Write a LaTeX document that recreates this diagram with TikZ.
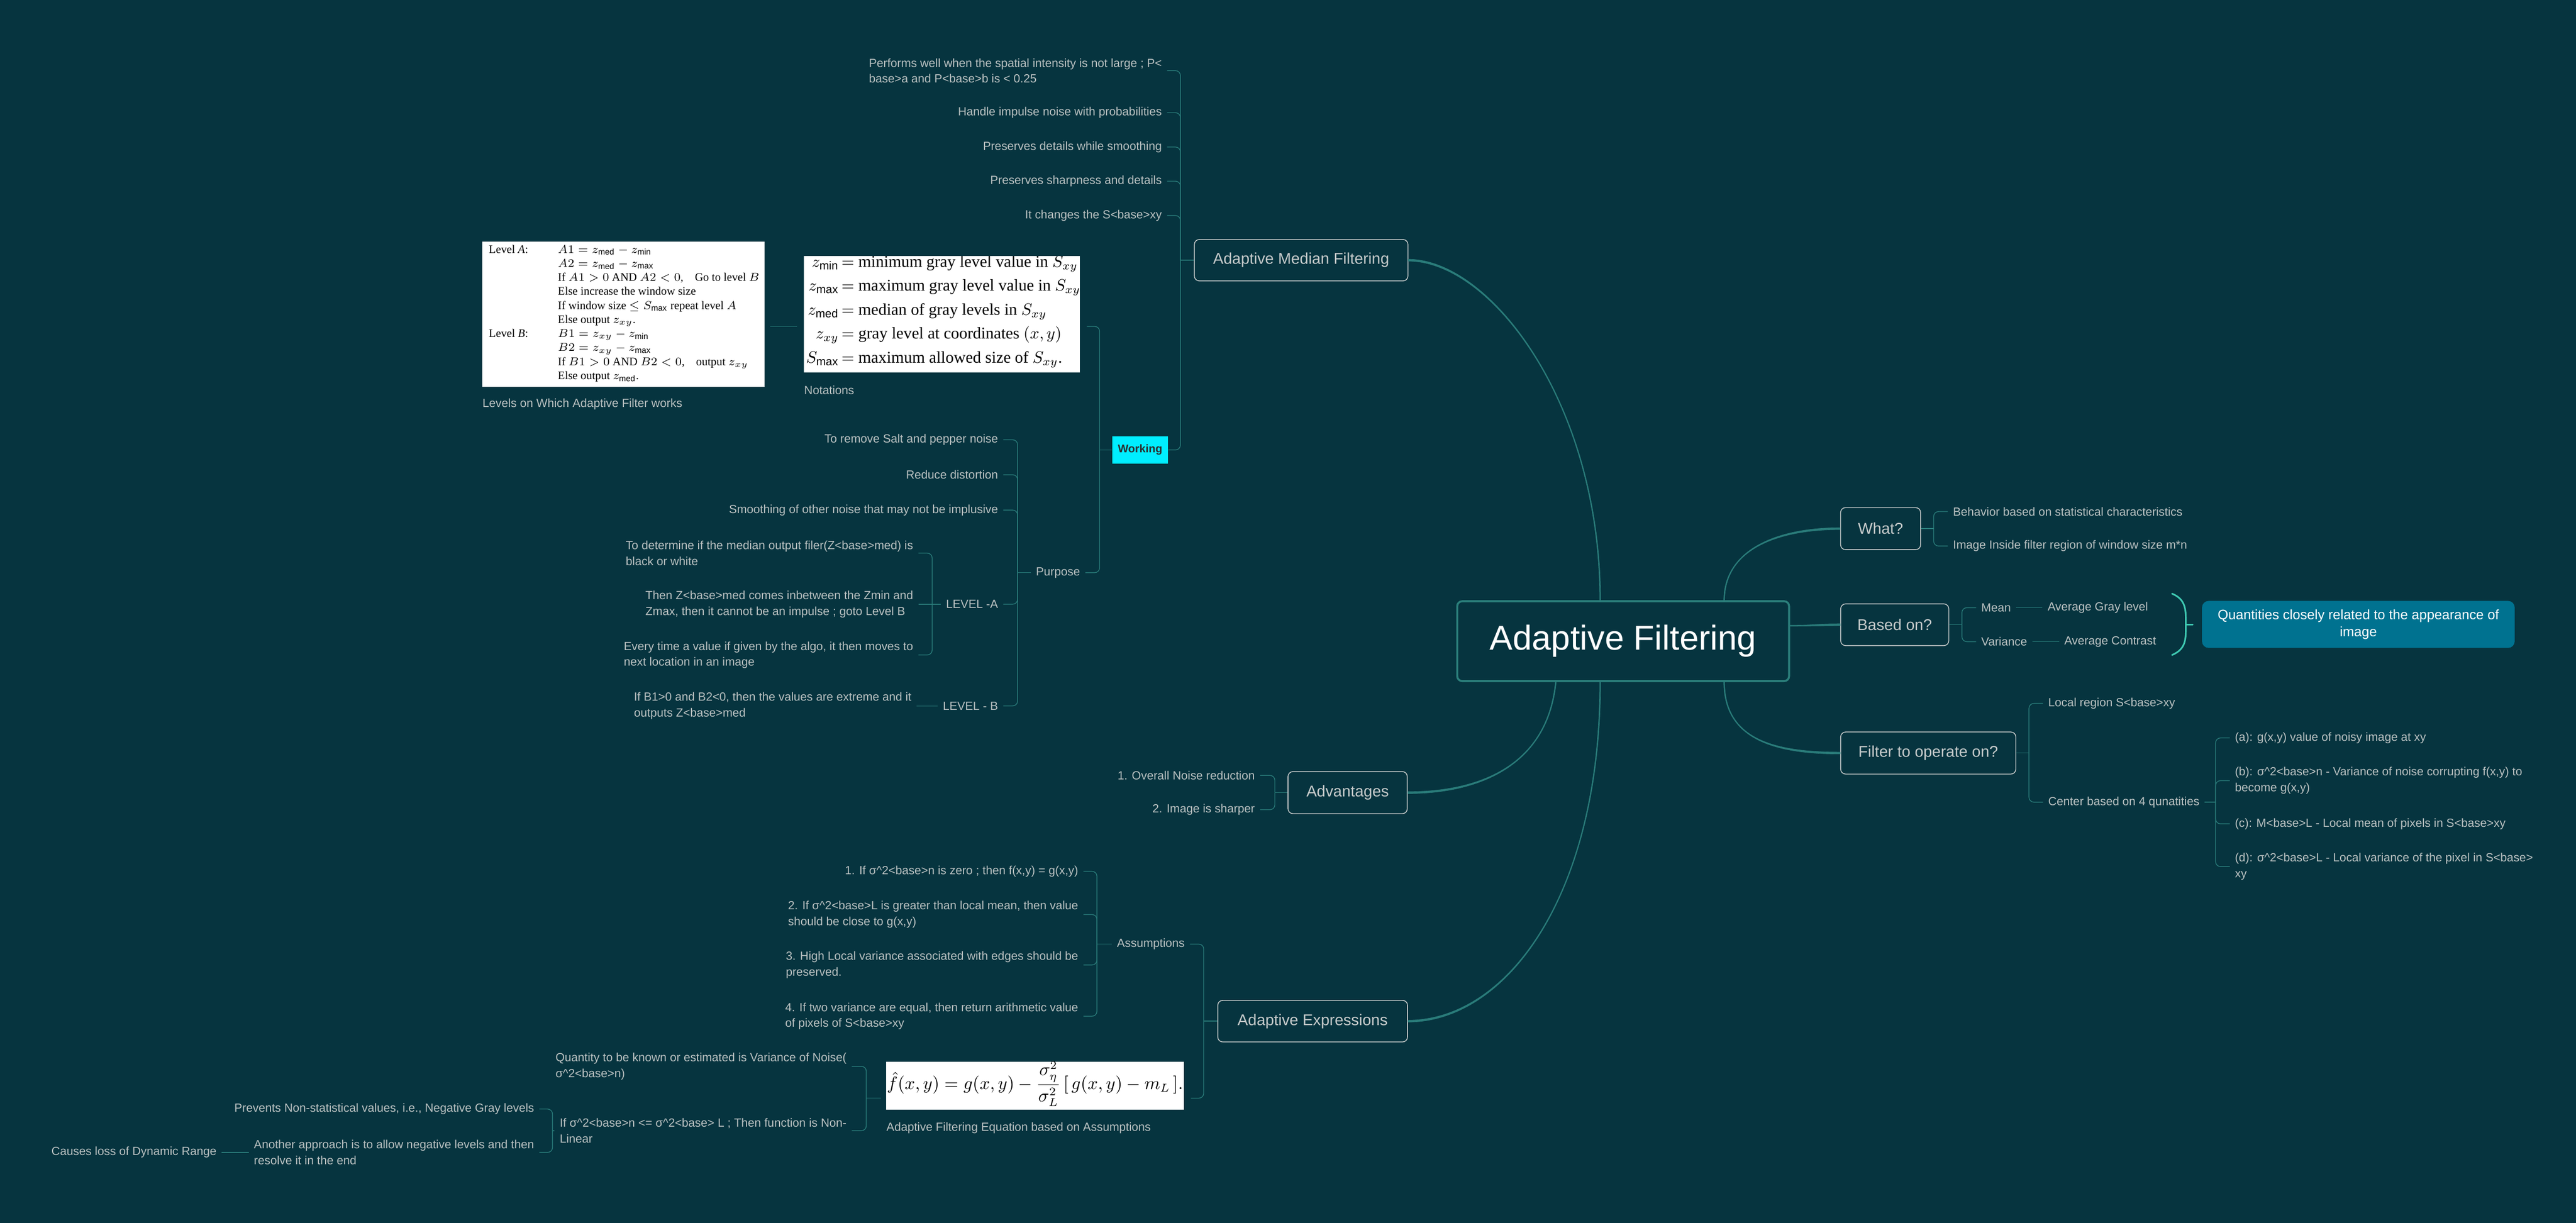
\documentclass[tikz,border=0pt]{standalone}
\usepackage{amsmath}
\usepackage{fontspec}
\setmainfont{Liberation Sans}
\newfontfamily\imgserif{Liberation Serif}
\definecolor{bgc}{HTML}{06343F}
\definecolor{linec}{HTML}{2A7C7A}
\definecolor{leaftxt}{HTML}{B9C1C1}
\definecolor{boxline}{HTML}{C3C8C8}
\definecolor{boxtxt}{HTML}{C6CBCB}
\definecolor{rootline}{HTML}{2B7F7B}
\definecolor{workfill}{HTML}{00EEFF}
\definecolor{worktxt}{HTML}{2B2F30}
\definecolor{quantfill}{HTML}{007290}
\definecolor{brkc}{HTML}{3FC9B2}
\begin{document}
\begin{tikzpicture}[x=1pt,y=-1pt,
  leaf/.style={font=\fontsize{7.2}{9.6}\selectfont, text=leaftxt, inner xsep=3pt, inner ysep=1pt, align=left},
  leafL/.style={leaf, anchor=east},
  leafR/.style={leaf, anchor=west},
  capt/.style={leaf, anchor=west, inner xsep=0pt},
  topic/.style={draw=boxline, line width=0.5pt, rounded corners=3pt, text=boxtxt, font=\fontsize{9.5}{11}\selectfont, inner sep=0pt},
  conn/.style={draw=linec, line width=0.45pt, rounded corners=3pt},
  mainline/.style={fill=linec, draw=linec, line width=0.2pt},
  blockbox/.style={inner sep=0pt},
  brk/.style={draw=brkc, line width=1pt, line cap=round}]
\fill[bgc] (0,0) rectangle (1568,744.4);
\useasboundingbox (0,0) rectangle (1568,744.4);

% ---------- root ----------
\node[draw=rootline, line width=1.2pt, rounded corners=3pt, minimum width=202pt, minimum height=48.6pt, inner sep=0pt, font=\fontsize{21}{24}\selectfont, text=white] (root) at (988,390.3) {Adaptive Filtering};

% ---------- main topics ----------
\node[topic, minimum width=130pt, minimum height=25.2pt] (amf) at (792,158.4) {Adaptive Median Filtering};
\node[topic, minimum width=72.6pt, minimum height=25.6pt] (adv) at (820.3,482.5) {Advantages};
\node[topic, minimum width=115.5pt, minimum height=25.3pt] (adx) at (799,621.6) {Adaptive Expressions};
\node[topic, minimum width=48.7pt, minimum height=25.6pt] (what) at (1144.7,321.8) {What?};
\node[topic, minimum width=65.8pt, minimum height=25.4pt] (based) at (1153.3,380.3) {Based on?};
\node[topic, minimum width=106.6pt, minimum height=25.6pt] (filt) at (1173.7,458.4) {Filter to operate on?};

% ---------- main connectors (tapered) ----------
\path[mainline] ([xshift=-14.3pt]root.north) .. controls +(0,-120) and +(50,0) .. ([yshift=-0.6pt]amf.east)
  -- ([yshift=0.6pt]amf.east) .. controls +(50,0) and +(0,-120) .. ([xshift=-13.7pt]root.north) -- cycle;
\path[mainline] ([xshift=61.2pt]root.north) .. controls +(0,-30) and +(-40,0) .. ([yshift=0.6pt]what.west)
  -- ([yshift=-0.6pt]what.west) .. controls +(-40,0) and +(0,-30) .. ([xshift=61.8pt]root.north) -- cycle;
\path[mainline] ([yshift=9.7pt]root.east) .. controls +(15,0) and +(-15,0) .. ([yshift=0.6pt]based.west)
  -- ([yshift=-0.6pt]based.west) .. controls +(-15,0) and +(15,0) .. ([yshift=9.1pt]root.east) -- cycle;
\path[mainline] ([xshift=61.8pt]root.south) .. controls +(0,35) and +(-40,0) .. ([yshift=0.6pt]filt.west)
  -- ([yshift=-0.6pt]filt.west) .. controls +(-40,0) and +(0,35) .. ([xshift=61.2pt]root.south) -- cycle;
\path[mainline] ([xshift=-40.7pt]root.south) .. controls +(-5,50) and +(45,0) .. ([yshift=-0.6pt]adv.east)
  -- ([yshift=0.6pt]adv.east) .. controls +(45,0) and +(-5,50) .. ([xshift=-41.3pt]root.south) -- cycle;
\path[mainline] ([xshift=-13.7pt]root.south) .. controls +(0,130) and +(60,0) .. ([yshift=-0.6pt]adx.east)
  -- ([yshift=0.6pt]adx.east) .. controls +(60,0) and +(0,130) .. ([xshift=-14.3pt]root.south) -- cycle;

% ---------- Adaptive Median Filtering ----------
\coordinate (amfj) at (718.5,158.4);
\node[leafL] (amf1) at (710.4,43) {Performs well when the spatial intensity is not large ; P<\\base>a and P<base>b is < 0.25};
\node[leafL] (amf2) at (710.4,68.6) {Handle impulse noise with probabilities};
\node[leafL] (amf3) at (710.4,89.5) {Preserves details while smoothing};
\node[leafL] (amf4) at (710.4,110.3) {Preserves sharpness and details};
\node[leafL] (amf5) at (710.4,131.2) {It changes the S<base>xy};
\node[fill=workfill, text=worktxt, font=\bfseries\fontsize{6.8}{8}\selectfont, minimum width=34pt, minimum height=16.7pt, inner sep=0pt] (work) at (694,273.9) {Working};
\draw[conn] (amf.west) -- (amfj);
\foreach \c in {amf1,amf2,amf3,amf4,amf5,work} \draw[conn] (\c.east) -| (amfj);

% Working
\coordinate (workj) at (669.3,273.9);
\node[blockbox, minimum width=168.1pt, minimum height=87pt] (notblk) at (573.35,198.7) {};
\node[blockbox, minimum width=172pt, minimum height=104pt] (levblk) at (379.5,198.7) {};
\node[leafL] (purp) at (660.6,348.6) {Purpose};
\draw[conn] (work.west) -- (workj);
\draw[conn] ([xshift=4pt]notblk.east) -| (workj);
\draw[conn] (purp.east) -| (workj);
\draw[conn] ([xshift=-4pt]notblk.west) -- ([xshift=3pt]levblk.east);

% Levels image
\fill[white] (293.5,147.2) rectangle (465.4,235.4);
\node[anchor=north west, inner sep=0pt, text=black, font=\imgserif\fontsize{7}{8.55}\selectfont] (levtxt) at (297.4,147.8) {%
\begin{tabular}{@{}p{42pt}@{}l@{}}
Level \textit{A}: & $A1 = z_{\mathrm{med}} - z_{\mathrm{min}}$\\
 & $A2 = z_{\mathrm{med}} - z_{\mathrm{max}}$\\
 & If $A1 > 0$ AND $A2 < 0$,\quad Go to level $B$\\
 & Else increase the window size\\
 & If window size $\leq S_{\mathrm{max}}$ repeat level $A$\\
 & Else output $z_{xy}$.\\
Level \textit{B}: & $B1 = z_{xy} - z_{\mathrm{min}}$\\
 & $B2 = z_{xy} - z_{\mathrm{max}}$\\
 & If $B1 > 0$ AND $B2 < 0$,\quad output $z_{xy}$\\
 & Else output $z_{\mathrm{med}}$.
\end{tabular}};
\node[capt] (levcap) at (293.5,246.1) {Levels on Which Adaptive Filter works};

% Notations image
\begin{scope}
\clip (489.3,155.9) rectangle (657.4,226.7);
\fill[white] (489.3,155.9) rectangle (657.4,226.7);
\node[anchor=north west, inner sep=0pt, text=black, font=\imgserif\fontsize{10}{14.6}\selectfont] (nottxt) at (490.5,152.1) {%
\begin{tabular}{@{}r@{\,}l@{}}
$z_{\mathrm{min}}$ & $=$ minimum gray level value in $S_{xy}$\\
$z_{\mathrm{max}}$ & $=$ maximum gray level value in $S_{xy}$\\
$z_{\mathrm{med}}$ & $=$ median of gray levels in $S_{xy}$\\
$z_{xy}$ & $=$ gray level at coordinates $(x, y)$\\
$S_{\mathrm{max}}$ & $=$ maximum allowed size of $S_{xy}$.
\end{tabular}};
\end{scope}
\node[capt] (notcap) at (489.3,237.4) {Notations};

% Purpose
\coordinate (purpj) at (619.4,348.6);
\draw[conn] (purp.west) -- (purpj);
\node[leafL] (p1) at (610.7,267.7) {To remove Salt and pepper noise};
\node[leafL] (p2) at (610.7,289) {Reduce distortion};
\node[leafL] (p3) at (610.7,310.5) {Smoothing of other noise that may not be implusive};
\node[leafL] (lva) at (610.7,367.8) {LEVEL -A};
\node[leafL] (lvb) at (610.7,429.7) {LEVEL - B};
\foreach \c in {p1,p2,p3,lva,lvb} \draw[conn] (\c.east) -| (purpj);

\coordinate (lvaj) at (567.4,367.8);
\draw[conn] (lva.west) -- (lvaj);
\node[leafL] (la1) at (559,336.7) {To determine if the median output filer(Z<base>med) is\\black or white};
\node[leafL] (la2) at (559,367.8) {Then Z<base>med comes inbetween the Zmin and\\Zmax, then it cannot be an impulse ; goto Level B};
\node[leafL] (la3) at (559,398.7) {Every time a value if given by the algo, it then moves to\\next location in an image};
\draw[conn] (la1.east) -| (lvaj);
\draw[conn] (la2.east) -- (lvaj);
\draw[conn] (la3.east) -| (lvaj);
\node[leafL] (lb1) at (558,429.7) {If B1>0 and B2<0, then the values are extreme and it\\outputs Z<base>med};
\draw[conn] (lb1.east) -- (lvb.west);

% ---------- Advantages ----------
\coordinate (advj) at (776,482.5);
\draw[conn] (adv.west) -- (advj);
\node[leafL] (adv1) at (767,472) {1. Overall Noise reduction};
\node[leafL] (adv2) at (767,492.9) {2. Image is sharper};
\foreach \c in {adv1,adv2} \draw[conn] (\c.east) -| (advj);

% ---------- Adaptive Expressions ----------
\coordinate (adxj) at (732.7,621.6);
\draw[conn] (adx.west) -- (adxj);
\node[leafL] (asm) at (724.3,574.7) {Assumptions};
\node[blockbox, minimum width=181.3pt, minimum height=44.4pt] (eqblk) at (630.05,668.5) {};
\draw[conn] (asm.east) -| (adxj);
\draw[conn] ([xshift=4pt]eqblk.east) -| (adxj);

\coordinate (asmj) at (667.7,574.7);
\draw[conn] (asm.west) -- (asmj);
\node[leafL] (as1) at (659.5,530.4) {1. If σ\textasciicircum 2<base>n is zero ; then f(x,y) = g(x,y)};
\node[leafL] (as2) at (659.5,556.7) {2. If σ\textasciicircum 2<base>L is greater than local mean, then value\\should be close to g(x,y)};
\node[leafL] (as3) at (659.5,587.4) {3. High Local variance associated with edges should be\\preserved.};
\node[leafL] (as4) at (659.5,618.6) {4. If two variance are equal, then return arithmetic value\\of pixels of S<base>xy};
\foreach \c in {as1,as2,as3,as4} \draw[conn] (\c.east) -| (asmj);

% Equation image
\begin{scope}
\clip (539.4,646.3) rectangle (720.7,675.4);
\fill[white] (539.4,646.3) rectangle (720.7,675.4);
\node[text=black, inner sep=0pt, font=\fontsize{10.5}{12}\selectfont] (eqtxt) at (630,659.8) {$\hat{f}(x, y) = g(x, y) - \dfrac{\sigma_{\eta}^{2}}{\sigma_{L}^{2}}\,[\,g(x, y) - m_{L}\,].$};
\end{scope}
\node[capt] (eqcap) at (539.4,686.6) {Adaptive Filtering Equation based on Assumptions};

\coordinate (eqj) at (527.3,668.5);
\draw[conn] ([xshift=-3pt]eqblk.west) -- (eqj);
\node[leafL] (eq1) at (518.5,649.1) {Quantity to be known or estimated is Variance of Noise(\\σ\textasciicircum 2<base>n)};
\node[leafL] (eq2) at (518.5,688.3) {If σ\textasciicircum 2<base>n <= σ\textasciicircum 2<base> L ; Then function is Non-\\Linear};
\foreach \c in {eq1,eq2} \draw[conn] (\c.east) -| (eqj);

\coordinate (eq2j) at (336.3,688.3);
\draw[conn] (eq2.west) -- (eq2j);
\node[leafL] (ng1) at (328.3,675.1) {Prevents Non-statistical values, i.e., Negative Gray levels};
\node[leafL] (ng2) at (328.3,701.5) {Another approach is to allow negative levels and then\\resolve it in the end};
\foreach \c in {ng1,ng2} \draw[conn] (\c.east) -| (eq2j);
\node[leafL] (ng3) at (135,701.5) {Causes loss of Dynamic Range};
\draw[conn] (ng3.east) -- (ng2.west);

% ---------- What? ----------
\coordinate (whatj) at (1177,321.8);
\draw[conn] (what.east) -- (whatj);
\node[leafR] (w1) at (1185.6,311.4) {Behavior based on statistical characteristics};
\node[leafR] (w2) at (1185.6,332.4) {Image Inside filter region of window size m*n};
\foreach \c in {w1,w2} \draw[conn] (\c.west) -| (whatj);

% ---------- Based on? ----------
\coordinate (basedj) at (1194.2,380.3);
\draw[conn] (based.east) -- (basedj);
\node[leafR] (mean) at (1202.8,369.9) {Mean};
\node[leafR] (var) at (1202.8,390.6) {Variance};
\foreach \c in {mean,var} \draw[conn] (\c.west) -| (basedj);
\node[leafR] (agl) at (1243.2,369.9) {Average Gray level};
\node[leafR] (acon) at (1253.3,390.6) {Average Contrast};
\draw[conn] (mean.east) -- (agl.west);
\draw[conn] (var.east) -- (acon.west);
\coordinate (brktop) at (1322.1,361.4);
\coordinate (brkmid) at (1330.5,380.2);
\coordinate (brkbot) at (1322.1,398.7);
\coordinate (brktip) at (1334.7,380.2);
\draw[brk] (brktop) .. controls (1331,365) and (1330.5,372) .. (brkmid) .. controls (1330.5,388.4) and (1331,395) .. (brkbot);
\draw[brk] (brkmid) -- (brktip);
\node[fill=quantfill, rounded corners=4pt, minimum width=190.3pt, minimum height=28.6pt, inner sep=0pt, text=white, align=center, font=\fontsize{8.3}{10.5}\selectfont] (quant) at (1435.5,380.1) {Quantities closely related to the appearance of\\image};

% ---------- Filter to operate on? ----------
\coordinate (filtj) at (1235,458.4);
\draw[conn] (filt.east) -- (filtj);
\node[leafR] (f1) at (1243.5,428.2) {Local region S<base>xy};
\node[leafR] (f2) at (1243.5,488.3) {Center based on 4 qunatities};
\foreach \c in {f1,f2} \draw[conn] (\c.west) -| (filtj);
\coordinate (f2j) at (1348.6,488.3);
\draw[conn] (f2.east) -- (f2j);
\node[leafR] (c1) at (1357.2,449.2) {(a): g(x,y) value of noisy image at xy};
\node[leafR] (c2) at (1357.2,475.2) {(b): σ\textasciicircum 2<base>n - Variance of noise corrupting f(x,y) to\\become g(x,y)};
\node[leafR] (c3) at (1357.2,501.5) {(c): M<base>L - Local mean of pixels in S<base>xy};
\node[leafR] (c4) at (1357.2,527.5) {(d): σ\textasciicircum 2<base>L - Local variance of the pixel in S<base>\\xy};
\foreach \c in {c1,c2,c3,c4} \draw[conn] (\c.west) -| (f2j);
\end{tikzpicture}
\end{document}
